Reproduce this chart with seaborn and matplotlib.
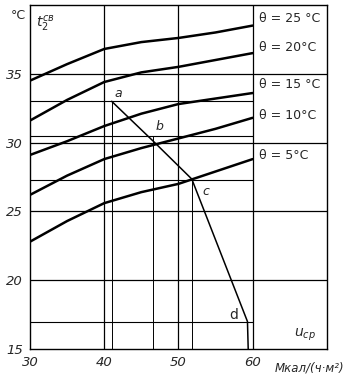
import numpy as np
import pandas as pd
import matplotlib
matplotlib.use("Agg")
import matplotlib.pyplot as plt
import seaborn as sns

# === DATA ===
u_cp = [30, 35, 40, 45, 50, 55, 60]
t_25 = [34.5, 35.7, 36.8, 37.3, 37.6, 38.0, 38.5]
t_20 = [31.6, 33.1, 34.4, 35.1, 35.5, 36.0, 36.5]
t_15 = [29.1, 30.1, 31.2, 32.1, 32.8, 33.2, 33.6]
t_10 = [26.2, 27.6, 28.8, 29.6, 30.3, 31.0, 31.8]
t_05 = [22.8, 24.3, 25.6, 26.4, 27.0, 27.9, 28.8]
theta_labels = ["θ = 25 °C", "θ = 20°C", "θ = 15 °C", "θ = 10°C", "θ = 5°C"]
label_y = [39.0, 36.9, 34.25, 31.95, 29.06]

# construction a-b-c-d
path_x = [41.0, 46.8, 51.8, 59.3, 59.4]
path_y = [33.0, 30.0, 27.35, 17.0, 15.0]
guide_h = [33.0, 30.5, 27.3, 17.0]
guide_v = [41.0, 46.6, 51.8]
guide_v_top = [33.0, 30.5, 27.3]

rows = []
for name, vals in zip(theta_labels, [t_25, t_20, t_15, t_10, t_05]):
    for x, y in zip(u_cp, vals):
        rows.append({"u": x, "t": y, "theta": name})
df = pd.DataFrame(rows)

# === PLOT ===
sns.set_style("white")
plt.rcParams["font.family"] = ["DejaVu Sans"]

fig = plt.figure(figsize=(3.53, 3.79), dpi=100)
ax = fig.add_axes([0.085, 0.079, 0.841, 0.908])

sns.lineplot(data=df, x="u", y="t", hue="theta", palette=["black"] * 5,
             linewidth=1.8, legend=False, ax=ax, sort=True, zorder=3)

# grid
for x in [40, 50, 60]:
    ax.axvline(x, color="black", lw=0.9, zorder=1)
for y in [20, 25, 30, 35]:
    ax.axhline(y, color="black", lw=0.9, zorder=1)
ax.hlines(guide_h, 30, 60, color="black", lw=0.8, zorder=1)
ax.vlines(guide_v, 15, guide_v_top, color="black", lw=0.7, zorder=1)

# construction line
ax.plot(path_x, path_y, color="black", lw=1.1, zorder=4)
ax.text(41.4, 33.3, "a", fontsize=9, style="italic")
ax.text(46.9, 30.9, "b", fontsize=9, style="italic")
ax.text(53.2, 26.2, "c", fontsize=9, style="italic")
ax.text(56.9, 17.2, "d", fontsize=10)

for lab, y in zip(theta_labels, label_y):
    ax.text(60.8, y, lab, fontsize=9, va="center")

ax.set_xlim(30, 70)
ax.set_ylim(15, 40)
ax.set_xticks([30, 40, 50, 60])
ax.set_yticks([15, 20, 25, 30, 35])
ax.tick_params(length=0, labelsize=9.5, pad=5)
for lab in ax.get_xticklabels() + ax.get_yticklabels():
    lab.set_style("italic")
ax.set_xlabel("")
ax.set_ylabel("")
for s in ax.spines.values():
    s.set_color("black")
    s.set_linewidth(1.0)

ax.text(29.4, 39.2, "°C", fontsize=9, ha="right", va="center", clip_on=False)
ax.text(30.8, 38.6, r"$t_2^{св}$", fontsize=10, va="center")
ax.text(67.0, 16.0, r"$u_{ср}$", fontsize=10, ha="center", va="center")
ax.text(72.4, 13.6, "Мкал/(ч·м²)", fontsize=8.5, style="italic",
        ha="right", va="center", clip_on=False)

fig.savefig("out.png", dpi=100)
